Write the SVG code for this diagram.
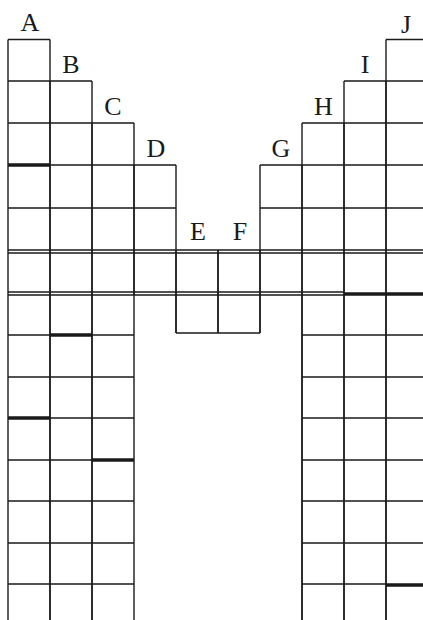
<svg xmlns="http://www.w3.org/2000/svg" width="423" height="620" viewBox="0 0 423 620">
<style>
.ln{fill:none;stroke:#1a1a1a;stroke-width:1.4}
.tk{fill:none;stroke:#1a1a1a;stroke-width:3.5}
.lb{font-family:"Liberation Serif","Times New Roman",serif;font-size:26px;fill:#1a1a1a;text-anchor:middle}
</style>
<rect width="423" height="620" fill="#ffffff"/>
<g id="col-A">
<path class="ln" d="M8 39.5V620M50 39.5V620M8 39.5H50M8 81H50M8 123H50M8 208H50M8 250H50M8 253H50M8 292H50M8 295H50M8 335H50M8 377H50M8 460H50M8 501H50M8 543H50M8 584H50"/>
<path class="tk" d="M8 165H50M8 418H50"/>
<text class="lb" x="30" y="31">A</text>
</g>
<g id="col-B">
<path class="ln" d="M50 81V620M92 81V620M50 81H92M50 123H92M50 165H92M50 208H92M50 250H92M50 253H92M50 292H92M50 295H92M50 377H92M50 418H92M50 460H92M50 501H92M50 543H92M50 584H92"/>
<path class="tk" d="M50 335H92"/>
<text class="lb" x="71" y="73">B</text>
</g>
<g id="col-C">
<path class="ln" d="M92 123V620M134 123V620M92 123H134M92 165H134M92 208H134M92 250H134M92 253H134M92 292H134M92 295H134M92 335H134M92 377H134M92 418H134M92 501H134M92 543H134M92 584H134"/>
<path class="tk" d="M92 460H134"/>
<text class="lb" x="113" y="115">C</text>
</g>
<g id="col-D">
<path class="ln" d="M134 165V295M176 165V333M134 165H176M134 208H176M134 250H176M134 253H176M134 292H176M134 295H176"/>
<text class="lb" x="156" y="157">D</text>
</g>
<g id="col-E">
<path class="ln" d="M176 250V333M218 250V333M176 250H218M176 253H218M176 292H218M176 295H218M176 333H218"/>
<text class="lb" x="198" y="240">E</text>
</g>
<g id="col-F">
<path class="ln" d="M218 250V333M260 250V333M218 250H260M218 253H260M218 292H260M218 295H260M218 333H260"/>
<text class="lb" x="240" y="240">F</text>
</g>
<g id="col-G">
<path class="ln" d="M260 165V333M302 165V620M260 165H302M260 208H302M260 250H302M260 253H302M260 292H302M260 295H302"/>
<text class="lb" x="281" y="157">G</text>
</g>
<g id="col-H">
<path class="ln" d="M302 123V620M344 123V620M302 123H344M302 165H344M302 208H344M302 250H344M302 253H344M302 292H344M302 295H344M302 335H344M302 377H344M302 418H344M302 460H344M302 501H344M302 543H344M302 584H344"/>
<text class="lb" x="323.5" y="115">H</text>
</g>
<g id="col-I">
<path class="ln" d="M344 81V620M386 81V620M344 81H386M344 123H386M344 165H386M344 208H386M344 250H386M344 253H386M344 335H386M344 377H386M344 418H386M344 460H386M344 501H386M344 543H386M344 584H386"/>
<path class="tk" d="M344 294H386"/>
<text class="lb" x="365" y="73">I</text>
</g>
<g id="col-J">
<path class="ln" d="M386 39.5V620M386 39.5H423M386 81H423M386 123H423M386 165H423M386 208H423M386 250H423M386 253H423M386 335H423M386 377H423M386 418H423M386 460H423M386 501H423M386 543H423"/>
<path class="tk" d="M386 294H423M386 585H423"/>
<text class="lb" x="406" y="33">J</text>
</g>
<g id="connectors"></g>
</svg>
